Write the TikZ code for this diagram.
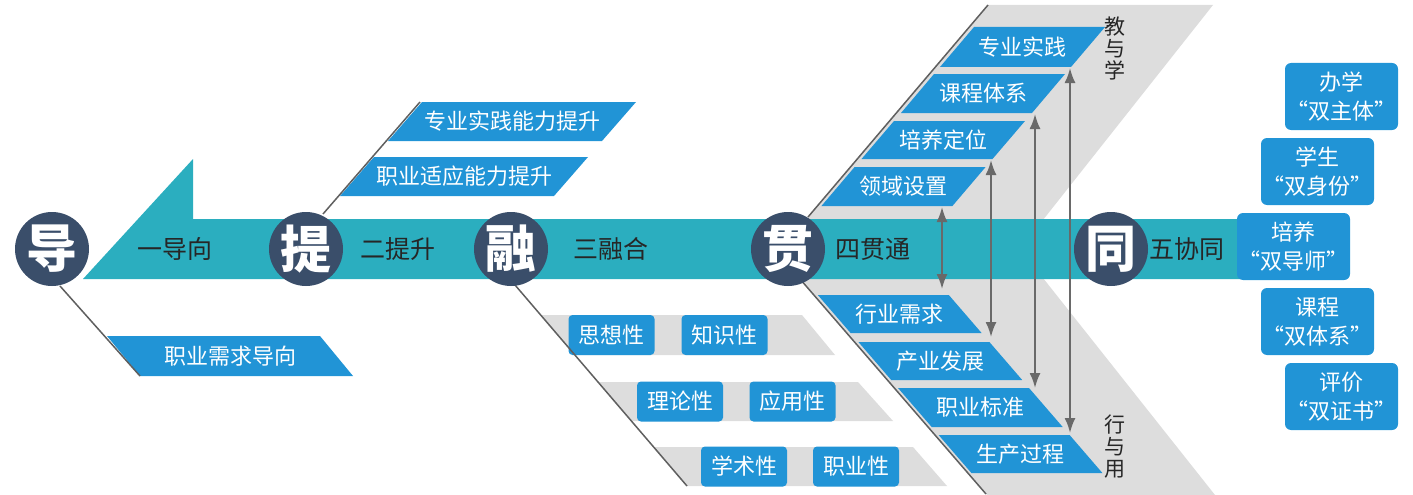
\documentclass[tikz,border=0pt]{standalone}
\usepackage{fontspec}
\setmainfont{Noto Sans CJK SC}
\usetikzlibrary{arrows.meta}
\definecolor{bandteal}{RGB}{43,174,191}
\definecolor{navy}{RGB}{58,78,106}
\definecolor{boxblue}{RGB}{33,148,214}
\definecolor{lgray}{RGB}{221,221,221}
\definecolor{dtext}{RGB}{38,38,38}
\definecolor{lineg}{RGB}{95,95,95}
\definecolor{arrg}{RGB}{105,105,105}
\tikzset{
 circ/.style={circle, fill=navy, minimum size=74pt, inner sep=0pt, text=white, font=\fontsize{51}{51}\selectfont\bfseries},
 lvl/.style={text=dtext, font=\fontsize{25}{25}\selectfont, inner sep=0pt},
 btxt/.style={text=white, font=\fontsize{22}{22}\selectfont, inner sep=0pt},
 sbox/.style={rounded corners=4pt, fill=boxblue, minimum width=86pt, minimum height=40pt, inner sep=0pt, text=white, font=\fontsize{22}{22}\selectfont},
 rbox/.style={rounded corners=6pt, fill=boxblue, minimum width=113pt, minimum height=67pt, inner sep=0pt, text=white, align=center, font=\fontsize{22}{29}\selectfont},
 vtxt/.style={text=dtext, align=center, font=\fontsize{21}{22}\selectfont, inner sep=0pt},
 dline/.style={draw=lineg, line width=1.5pt},
 arr/.style={draw=arrg, line width=2pt, {Latex[length=15pt,width=11pt]}-{Latex[length=15pt,width=11pt]}},
}
% parallelogram: top-left x, top y, bottom-left x, bottom y, width, name, text
\newcommand\pgt[7]{%
 \fill[boxblue] (#1,#2) -- ({#1+#5},#2) -- ({#3+#5},#4) -- (#3,#4) -- cycle;
 \node[btxt] (#6) at ({(#1+#3)/2+#5/2},{(#2+#4)/2}) {#7};}
\begin{document}
\begin{tikzpicture}[x=1pt,y=-1pt]
\useasboundingbox (0,0) rectangle (1413,495);
% gray chevron behind the 贯 section
\fill[lgray] (808,217) -- (988,5) -- (1213,5) -- (1020,249) -- (1215,495) -- (987,495) -- (800,279) -- cycle;
% gray bands of 融
\fill[lgray] (540.7,315) -- (802,315) -- (835,355) -- (574.9,355) -- cycle;
\fill[lgray] (598,382) -- (858,382) -- (893,421) -- (631.4,421) -- cycle;
\fill[lgray] (653.7,447) -- (913,447) -- (947,486) -- (687,486) -- cycle;
% main teal arrow band
\fill[bandteal] (83,279) -- (193,159) -- (193,219) -- (1240,219) -- (1240,279) -- cycle;
% parallelogram boxes
\pgt{107}{336}{140}{376}{213}{g1}{职业需求导向}
\pgt{422}{102}{388}{141}{214}{p1}{专业实践能力提升}
\pgt{374}{157}{340}{196}{214}{p2}{职业适应能力提升}
\pgt{974}{27}{940}{67}{131}{u1}{专业实践}
\pgt{934}{74}{901}{113}{131}{u2}{课程体系}
\pgt{894}{121}{861.5}{159}{131}{u3}{培养定位}
\pgt{854.6}{167}{821.4}{206}{131}{u4}{领域设置}
\pgt{817.8}{295}{850.6}{333}{131}{d1}{行业需求}
\pgt{858.4}{342}{891.2}{380}{131}{d2}{产业发展}
\pgt{898}{388}{931.7}{427}{131}{d3}{职业标准}
\pgt{938.6}{435}{971.4}{473}{131}{d4}{生产过程}
% rounded boxes of 融
\node[sbox] (s1) at (611.5,335) {思想性};
\node[sbox] (s2) at (724.5,335) {知识性};
\node[sbox] (s3) at (680,401.5) {理论性};
\node[sbox] (s4) at (792.5,401.5) {应用性};
\node[sbox] (s5) at (744,466.5) {学术性};
\node[sbox] (s6) at (856,466.5) {职业性};
% fishbone lines
\coordinate (L0a) at (60,286);  \coordinate (L0b) at (140,376);
\coordinate (L1a) at (323,214); \coordinate (L1b) at (420,102);
\coordinate (L2a) at (515,285); \coordinate (L2b) at (687,486);
\coordinate (L3a) at (808,217); \coordinate (L3b) at (988,5);
\coordinate (L4a) at (800,279); \coordinate (L4b) at (986,494);
\draw[dline] (L0a) -- (L0b);
\draw[dline] (L1a) -- (L1b);
\draw[dline] (L2a) -- (L2b);
\draw[dline] (L3a) -- (L3b);
\draw[dline] (L4a) -- (L4b);
% circles
\node[circ] (c1) at (52,249) {导};
\node[circ] (c2) at (306,249) {提};
\node[circ] (c3) at (511,249) {融};
\node[circ] (c4) at (788,249) {贯};
\node[circ] (c5) at (1111,249) {同};
% level labels
\node[lvl] (t1) at (175,249) {一导向};
\node[lvl] (t2) at (398,249) {二提升};
\node[lvl] (t3) at (611,249) {三融合};
\node[lvl] (t4) at (873,249) {四贯通};
\node[lvl] (t5) at (1187,249) {五协同};
% vertical labels
\node[vtxt] (v1) at (1115,48) {教\\与\\学};
\node[vtxt] (v2) at (1115,447) {行\\与\\用};
% double arrows
\coordinate (a1t) at (942,207);  \coordinate (a1b) at (942,289);
\coordinate (a2t) at (991,160);  \coordinate (a2b) at (991,337);
\coordinate (a3t) at (1035,114); \coordinate (a3b) at (1035,388);
\coordinate (a4t) at (1070,68);  \coordinate (a4b) at (1070,433);
\draw[arr] (a1t) -- (a1b);
\draw[arr] (a2t) -- (a2b);
\draw[arr] (a3t) -- (a3b);
\draw[arr] (a4t) -- (a4b);
% right column boxes
\node[rbox] (r1) at (1341.5,96.5) {办学\\“双主体”};
\node[rbox] (r2) at (1317.5,171.5) {学生\\“双身份”};
\node[rbox] (r3) at (1293.5,246.5) {培养\\“双导师”};
\node[rbox] (r4) at (1317.5,321.5) {课程\\“双体系”};
\node[rbox] (r5) at (1341.5,396.5) {评价\\“双证书”};
\end{tikzpicture}
\end{document}
